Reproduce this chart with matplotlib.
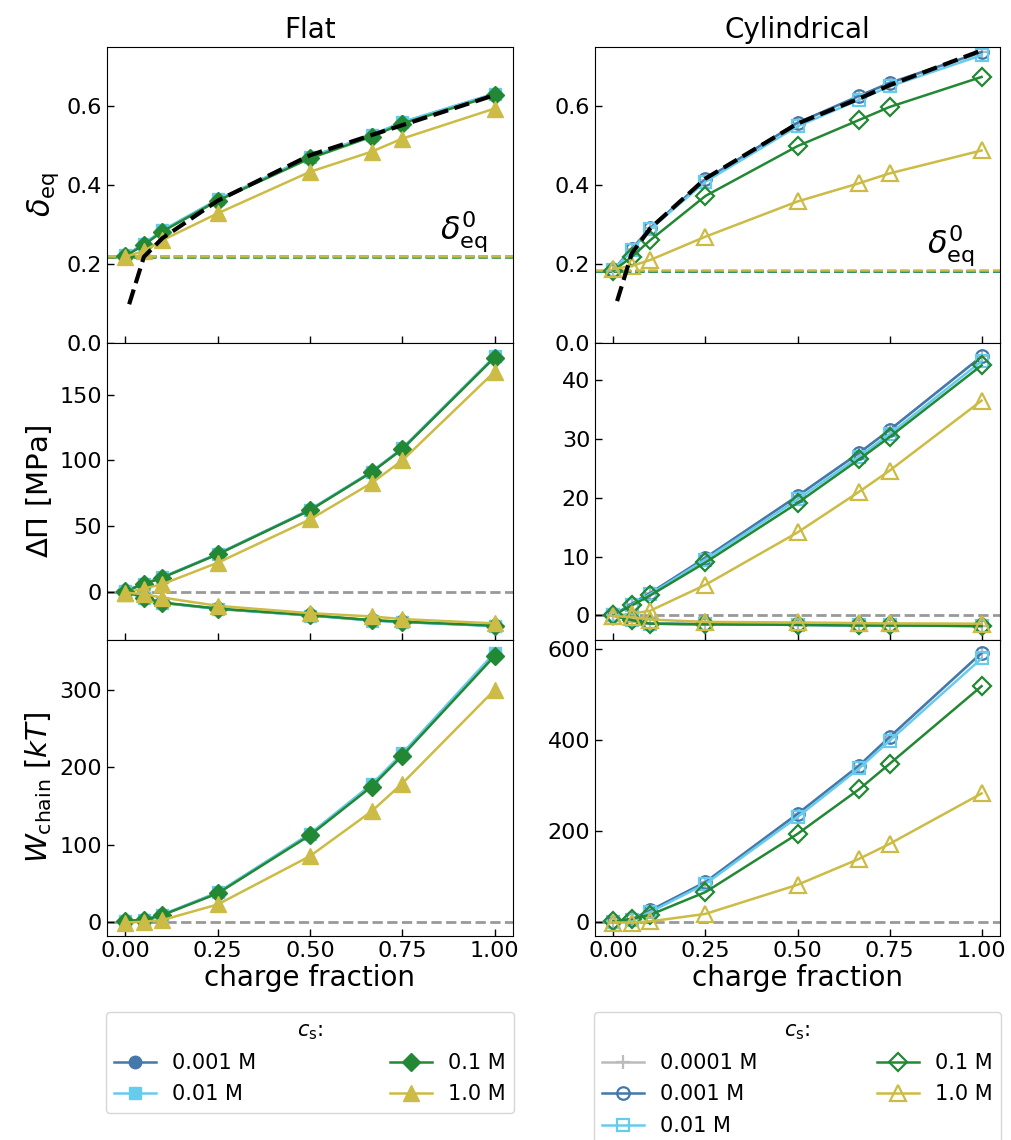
import matplotlib
matplotlib.use("Agg")
import matplotlib.pyplot as plt
from matplotlib.ticker import MultipleLocator, FormatStrFormatter
from matplotlib.transforms import blended_transform_factory

# charge fractions of the simulated points
charge = [0.0, 0.05, 0.1, 0.25, 0.5, 0.667, 0.75, 1.0]
charge_theory = [0.01, 0.05, 0.1, 0.25, 0.5, 0.667, 0.75, 1.0]

flat_salts = ["0.001 M", "0.01 M", "0.1 M", "1.0 M"]
cyl_salts = ["0.0001 M", "0.001 M", "0.01 M", "0.1 M", "1.0 M"]

# ---- Flat brushes (order = flat_salts) ----
flat_delta = [
    [0.221, 0.250, 0.284, 0.362, 0.470, 0.525, 0.558, 0.630],
    [0.222, 0.251, 0.285, 0.363, 0.471, 0.526, 0.559, 0.631],
    [0.220, 0.248, 0.282, 0.360, 0.467, 0.522, 0.555, 0.627],
    [0.218, 0.233, 0.260, 0.328, 0.433, 0.484, 0.517, 0.593],
]
flat_delta0 = [0.219, 0.219, 0.2185, 0.2205]
flat_theory = [0.098, 0.218, 0.265, 0.360, 0.475, 0.526, 0.551, 0.627]

flat_dpi_up = [
    [0.5, 5.8, 10.8, 28.6, 62.3, 91.3, 109.0, 179.0],
    [0.5, 5.9, 10.9, 28.8, 62.5, 91.5, 109.2, 179.3],
    [0.5, 5.6, 10.6, 28.4, 62.0, 91.0, 108.6, 178.5],
    [-0.8, 2.3, 5.6, 22.0, 55.0, 82.8, 100.0, 167.6],
]
flat_dpi_low = [
    [0.0, -4.8, -8.6, -13.2, -18.2, -22.0, -23.2, -26.2],
    [0.0, -4.9, -8.7, -13.3, -18.3, -22.1, -23.3, -26.3],
    [0.0, -4.6, -8.4, -13.0, -18.0, -21.8, -23.0, -26.0],
    [-0.8, -2.0, -4.6, -10.9, -16.5, -19.0, -21.0, -24.3],
]
flat_w = [
    [1.3, 2.4, 9.0, 37.5, 113.5, 177.0, 217.0, 347.0],
    [1.4, 2.5, 9.2, 38.0, 114.0, 178.0, 218.0, 348.0],
    [1.3, 2.2, 8.6, 36.7, 112.0, 175.0, 215.0, 344.0],
    [-1.0, 0.0, 2.2, 22.4, 85.0, 143.0, 179.0, 300.0],
]

# ---- Cylindrical brushes (order = cyl_salts) ----
cyl_delta = [
    [0.185, 0.238, 0.291, 0.413, 0.556, 0.624, 0.657, 0.735],
    [0.185, 0.238, 0.291, 0.414, 0.557, 0.625, 0.658, 0.736],
    [0.184, 0.235, 0.288, 0.408, 0.548, 0.615, 0.649, 0.728],
    [0.183, 0.218, 0.260, 0.372, 0.498, 0.564, 0.597, 0.673],
    [0.187, 0.195, 0.210, 0.269, 0.358, 0.404, 0.429, 0.487],
]
cyl_delta0 = [0.183, 0.183, 0.183, 0.1815, 0.1845]
cyl_theory = [0.106, 0.227, 0.290, 0.416, 0.555, 0.618, 0.652, 0.740]

cyl_dpi_up = [
    [0.0, 2.0, 3.8, 9.8, 20.3, 27.6, 31.5, 44.0],
    [0.0, 2.0, 3.8, 9.8, 20.3, 27.6, 31.5, 44.0],
    [0.0, 1.8, 3.6, 9.5, 19.7, 27.0, 30.8, 43.2],
    [0.1, 1.7, 3.4, 9.0, 19.1, 26.5, 30.3, 42.5],
    [-0.1, 0.3, 0.8, 5.2, 14.1, 21.0, 24.6, 36.5],
]
cyl_dpi_low = [
    [0.0, -0.8, -1.4, -1.5, -1.6, -1.7, -1.7, -1.8],
    [0.0, -0.8, -1.4, -1.5, -1.6, -1.7, -1.7, -1.8],
    [0.0, -0.8, -1.4, -1.5, -1.6, -1.7, -1.7, -1.8],
    [0.0, -0.8, -1.4, -1.5, -1.6, -1.7, -1.7, -1.8],
    [-0.1, -0.3, -0.7, -1.1, -1.2, -1.3, -1.35, -1.4],
]
cyl_w = [
    [0.0, 5.9, 25.6, 88.0, 238.0, 344.0, 407.0, 592.0],
    [0.0, 5.9, 25.6, 88.0, 238.0, 344.0, 407.0, 592.0],
    [0.0, 3.7, 22.0, 84.0, 231.0, 338.0, 399.0, 580.0],
    [1.5, 7.0, 16.0, 66.0, 194.0, 292.0, 348.0, 519.0],
    [-1.0, -1.0, 1.5, 18.0, 82.0, 139.0, 172.0, 283.0],
]

colors = {"0.0001 M": "#BBBBBB", "0.001 M": "#4477AA", "0.01 M": "#66CCEE",
          "0.1 M": "#228833", "1.0 M": "#CCBB44"}
markers = {"0.0001 M": "+", "0.001 M": "o", "0.01 M": "s",
           "0.1 M": "D", "1.0 M": "^"}
msizes = {"+": 10, "o": 9, "s": 9, "D": 9, "^": 12}

plt.rcParams["font.family"] = ["DejaVu Sans"]
plt.rcParams["mathtext.fontset"] = "dejavusans"

fig = plt.figure(figsize=(10.11, 11.4), dpi=100)

W, H = 1011.0, 1140.0
col_left = [107 / W, 595 / W]
col_width = [406 / W, 405 / W]
row_h = 296.5 / H
bottom0 = 1 - 936 / H


def series(ax, ys, salts, filled, label=True):
    for y, s in zip(ys, salts):
        c = colors[s]
        m = markers[s]
        kw = dict(color=c, marker=m, ms=msizes[m], lw=1.8)
        if filled:
            kw.update(mfc=c, mec=c)
        else:
            kw.update(mfc="none", mec=c, mew=1.6)
        ax.plot(charge, y, label=s if label else None, **kw)


def style(ax):
    ax.tick_params(direction="in", length=5, width=1, labelsize=16)
    ax.set_xlim(-0.05, 1.05)
    ax.xaxis.set_major_locator(MultipleLocator(0.25))
    ax.xaxis.set_major_formatter(FormatStrFormatter("%.2f"))


axes = []
for c in range(2):
    col = []
    for r in range(3):
        ax = fig.add_axes([col_left[c], bottom0 + (2 - r) * row_h, col_width[c], row_h],
                          sharex=col[0] if col else None)
        col.append(ax)
    axes.append(col)

for c, (salts, filled, delta, d0, theory, up, low, w, title) in enumerate([
        (flat_salts, True, flat_delta, flat_delta0, flat_theory, flat_dpi_up,
         flat_dpi_low, flat_w, "Flat"),
        (cyl_salts, False, cyl_delta, cyl_delta0, cyl_theory, cyl_dpi_up,
         cyl_dpi_low, cyl_w, "Cylindrical")]):
    ax1, ax2, ax3 = axes[c]

    # equilibrium thickness
    for v, s in zip(d0, salts):
        ax1.axhline(v, color=colors[s], ls="--", lw=1.8, zorder=1)
    series(ax1, delta, salts, filled)
    ax1.plot(charge_theory, theory, color="black", ls="--", lw=3, zorder=5)
    trans = blended_transform_factory(ax1.transAxes, ax1.transData)
    ax1.text(0.936, max(d0) + 0.004, r"$\delta_\mathrm{eq}^0$", transform=trans,
             ha="right", va="bottom", fontsize=23)
    ax1.set_ylim(0, 0.75)
    ax1.yaxis.set_major_locator(MultipleLocator(0.2))
    ax1.yaxis.set_major_formatter(FormatStrFormatter("%.1f"))
    ax1.set_title(title, fontsize=20, pad=6)

    # osmotic pressure
    ax2.axhline(0, color="0.6", ls="--", lw=2, zorder=1)
    series(ax2, up, salts, filled)
    series(ax2, low, salts, filled, label=False)
    ax2.yaxis.set_major_locator(MultipleLocator(50 if c == 0 else 10))

    # chain work
    ax3.axhline(0, color="0.6", ls="--", lw=2, zorder=1)
    series(ax3, w, salts, filled)
    ax3.yaxis.set_major_locator(MultipleLocator(100 if c == 0 else 200))
    ax3.set_xlabel("charge fraction", fontsize=20, labelpad=2)

    for ax in (ax1, ax2, ax3):
        style(ax)
    for ax in (ax1, ax2):
        ax.tick_params(labelbottom=False)

    handles, labels = ax3.get_legend_handles_labels()
    leg = ax3.legend(handles, labels, title=r"$c_\mathrm{s}$:", ncol=2,
                     loc="upper center", bbox_to_anchor=(-0.003, -0.255, 1.006, 0),
                     mode="expand", borderaxespad=0, fontsize=15,
                     title_fontsize=15, handlelength=2.0, labelspacing=0.55)

axes[0][0].set_ylabel(r"$\delta_\mathrm{eq}$", fontsize=22)
axes[0][1].set_ylabel(r"$\Delta\Pi$ [MPa]", fontsize=21)
axes[0][2].set_ylabel(r"$W_\mathrm{chain}$ [$kT$]", fontsize=21)

fig.savefig("out.png", dpi=100)
